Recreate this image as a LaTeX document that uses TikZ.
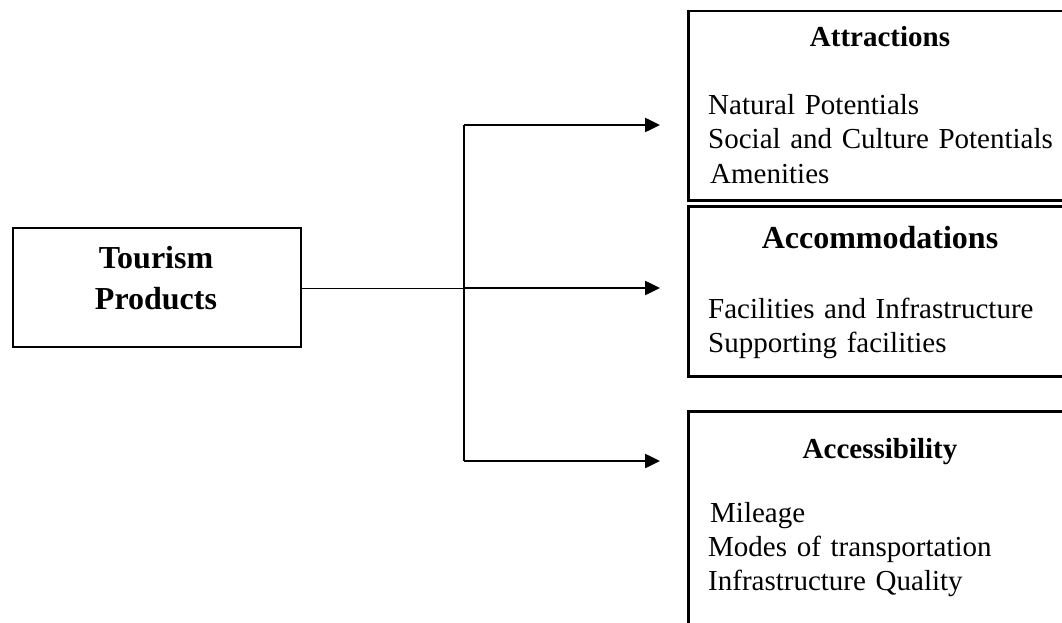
\documentclass[tikz,border=0pt]{standalone}
\usepackage{fontspec}
\setmainfont{Liberation Serif}
\usetikzlibrary{arrows.meta,positioning}

\begin{document}
\begin{tikzpicture}[x=1pt, y=-1pt]
% Define styles
\tikzstyle{box} = [rectangle, draw, line width=2.5pt, anchor=north west, inner sep=0pt]
\tikzstyle{head} = [font=\fontsize{29}{34}\selectfont\bfseries, anchor=base, inner sep=0pt]
\tikzstyle{items} = [font=\fontsize{29}{34}\selectfont, align=left, text width=350pt, anchor=base west, inner sep=0pt]
\tikzstyle{feed} = [draw, line width=2.5pt, shorten >=27pt, -{Triangle[length=15pt,width=14pt]}]

\useasboundingbox (0,0) rectangle (1062,623);
\clip (0,0) rectangle (1062,623);

% Boxes
\node [box, line width=2pt, minimum width=288pt, minimum height=119pt] (tp) at (12,227) {};
\node [box, minimum width=386pt, minimum height=189pt] (attr) at (687,10) {};
\node [box, minimum width=386pt, minimum height=170pt] (acco) at (687,205) {};
\node [box, minimum width=386pt, minimum height=250pt] (acce) at (687,410) {};

% Texts
\node [font=\fontsize{32}{41}\selectfont\bfseries, align=center, anchor=base, inner sep=0pt] (tptext) at (156,309) {Tourism\\Products};
\node [head] (attrhead) at (880,47) {Attractions};
\node [items] (attritems) at (708,115) {Natural Potentials\\Social and Culture Potentials\\\hspace*{2pt}Amenities};
\node [head, font=\fontsize{32}{34}\selectfont\bfseries] (accohead) at (880,248) {Accommodations};
\node [items] (accoitems) at (708,318) {Facilities and Infrastructure\\Supporting facilities};
\node [head] (accehead) at (880,458) {Accessibility};
\node [items] (acceitems) at (708,522) {\hspace*{2pt}Mileage\\Modes of transportation\\Infrastructure Quality};

% Connections
\coordinate (split) at (464,288);
\coordinate (up) at (464,125);
\coordinate (down) at (464,461);
\draw [line width=1pt] (tp.east |- split) -- (split);
\draw [line width=1.3pt] (up) -- (down);
\draw [feed] (up) -- (attr.west |- up);
\draw [feed] (split) -- (acco.west |- split);
\draw [feed] (down) -- (acce.west |- down);

\end{tikzpicture}
\end{document}
